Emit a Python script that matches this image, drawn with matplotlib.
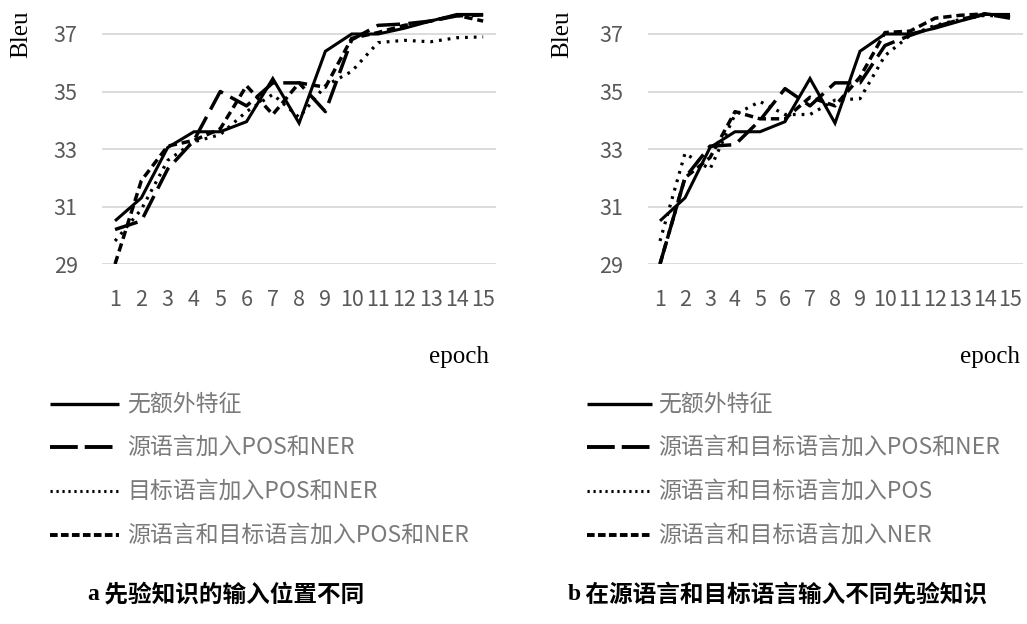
import matplotlib
matplotlib.use('Agg')
import matplotlib.pyplot as plt
from matplotlib.lines import Line2D

plt.rcParams['lines.scale_dashes'] = False

# ---------------- data ----------------
epochs = list(range(1, 16))
epoch_labels = [str(e) for e in epochs]
yticks = [29, 31, 33, 35, 37]

# panel a: different input positions of prior knowledge
a_none = [30.5, 31.3, 33.05, 33.6, 33.6, 33.95, 35.45, 33.9, 36.4, 37.0, 37.0, 37.2, 37.45, 37.68, 37.68]
a_src = [30.2, 30.5, 32.3, 33.3, 35.0, 34.5, 35.3, 35.3, 34.3, 36.8, 37.3, 37.35, 37.45, 37.63, 37.66]
a_tgt = [29.8, 30.9, 32.6, 33.25, 33.5, 34.3, 34.9, 34.1, 35.2, 35.7, 36.7, 36.78, 36.73, 36.87, 36.9]
a_both = [29.0, 31.9, 33.1, 33.3, 33.7, 35.2, 34.2, 35.3, 35.15, 36.85, 37.05, 37.3, 37.45, 37.65, 37.45]

# panel b: different prior knowledge on both sides
b_none = [30.5, 31.3, 33.05, 33.6, 33.6, 33.95, 35.45, 33.9, 36.4, 37.0, 37.0, 37.2, 37.45, 37.68, 37.68]
b_posner = [29.0, 32.0, 33.1, 33.15, 34.0, 35.1, 34.5, 35.3, 35.3, 36.6, 36.95, 37.25, 37.5, 37.7, 37.55]
b_pos = [29.8, 32.85, 32.3, 34.2, 34.65, 34.2, 34.2, 34.7, 34.75, 36.25, 36.95, 37.3, 37.5, 37.65, 37.6]
b_ner = [29.0, 32.0, 32.7, 34.3, 34.05, 34.05, 34.8, 34.5, 35.5, 37.05, 37.1, 37.55, 37.65, 37.7, 37.6]

a_labels = ['无额外特征', '源语言加入POS和NER', '目标语言加入POS和NER', '源语言和目标语言加入POS和NER']
b_labels = ['无额外特征', '源语言和目标语言加入POS和NER', '源语言和目标语言加入POS', '源语言和目标语言加入NER']
captions = [('a', ' 先验知识的输入位置不同'), ('b', ' 在源语言和目标语言输入不同先验知识')]

# ---------------- styling ----------------
W, H = 1027, 624
fig = plt.figure(figsize=(W / 100, H / 100), dpi=100)
fig.patch.set_facecolor('white')

CJK = ['Noto Sans CJK SC', 'DejaVu Sans']
SERIF = ['Liberation Serif', 'Noto Sans CJK SC']
TICK_C = '#595959'
LEG_C = '#7a7a7a'
GRID_C = '#d9d9d9'

styles = [
    dict(ls='-', lw=2.2),
    dict(ls=(0, (17, 6)), lw=2.5),
    dict(ls=(0, (2.0, 4.3)), lw=2.3),
    dict(ls=(0, (6, 3.5)), lw=2.5),
]
leg_styles = [
    dict(ls='-', lw=2.4),
    dict(ls=(0, (20, 5)), lw=2.8),
    dict(ls=(0, (1.6, 2.7)), lw=2.2),
    dict(ls=(0, (5.5, 2.4)), lw=2.8),
]


def fx(px):
    return px / W


def fy(py):
    return 1 - py / H


def make_panel(x0, x1, series, labels, ylab_x, epoch_x, leg_x0, leg_x1, text_x, cap, cap_x):
    ax = fig.add_axes([fx(x0), fy(264), fx(x1) - fx(x0), (264 - 5.25) / H])
    for vals, st in zip(series, styles):
        ax.plot(epochs, vals, color='black', solid_capstyle='butt', dash_capstyle='butt',
                solid_joinstyle='miter', **st)
    ax.set_xlim(0.5, 15.5)
    ax.set_ylim(29, 38)
    ax.set_yticks(yticks)
    ax.set_xticks(epochs)
    ax.set_xticklabels(epoch_labels)
    for s in ax.spines.values():
        s.set_visible(False)
    ax.grid(axis='y', color=GRID_C, lw=1.3)
    ax.set_axisbelow(True)
    ax.tick_params(length=0, labelsize=15.5, labelcolor=TICK_C)
    ax.tick_params(axis='y', pad=17.5)
    ax.tick_params(axis='x', pad=18)
    for t in ax.get_xticklabels() + ax.get_yticklabels():
        t.set_fontfamily(CJK)

    fig.text(fx(ylab_x), fy(34), 'Bleu', rotation=90, ha='center', va='center',
             fontsize=18, family=SERIF)
    fig.text(fx(epoch_x), fy(357), 'epoch', ha='center', va='center',
             fontsize=18, family=SERIF)

    ys = [404, 447, 491, 535]
    for yy, lab, st in zip(ys, labels, leg_styles):
        fig.add_artist(Line2D([fx(leg_x0), fx(leg_x1)], [fy(yy), fy(yy)], color='black',
                              solid_capstyle='butt', dash_capstyle='butt', **st))
        fig.text(fx(text_x), fy(yy), lab, ha='left', va='center', fontsize=16.5,
                 family=CJK, color=LEG_C)

    fig.text(fx(cap_x), fy(594), cap[0], ha='left', va='center', fontsize=17,
             family=SERIF, weight='bold', color='black')
    fig.text(fx(cap_x + 12), fy(594), cap[1], ha='left', va='center', fontsize=17,
             family=CJK, weight='bold', color='black')
    return ax


make_panel(101.9, 496.3, [a_none, a_src, a_tgt, a_both], a_labels,
           21, 459, 50, 119, 127, captions[0], 87)
make_panel(647.5, 1022.5, [b_none, b_posner, b_pos, b_ner], b_labels,
           562, 990, 587, 652, 658, captions[1], 568)

fig.savefig('out.png', dpi=100)
